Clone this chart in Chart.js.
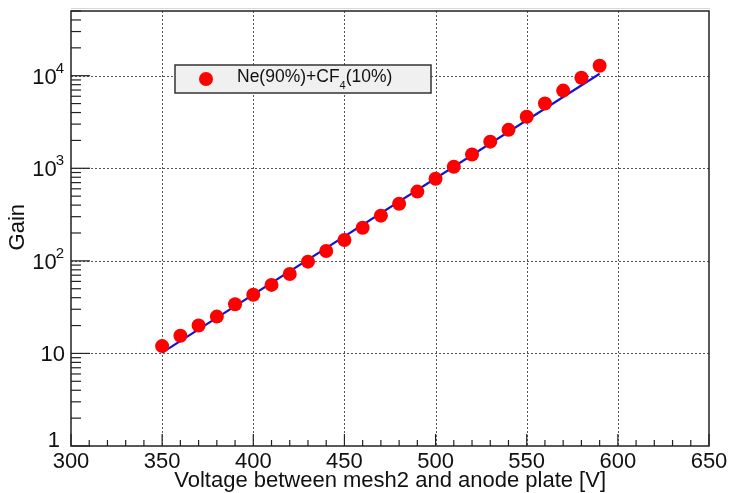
<!DOCTYPE html>
<html>
<head>
<meta charset="utf-8">
<script src="https://cdn.jsdelivr.net/npm/chart.js@4.4.1/dist/chart.umd.min.js"></script>
<style>
  body { margin: 0; background: #fff; }
  #wrap { width: 730px; height: 493px; }
</style>
</head>
<body>
<div id="wrap"><canvas id="myChart" width="730" height="493"></canvas></div>
<script>
// measured gain vs voltage
const voltages = [350, 360, 370, 380, 390, 400, 410, 420, 430, 440, 450, 460,
                  470, 480, 490, 500, 510, 520, 530, 540, 550, 560, 570, 580, 590];
const gains = [12, 15.5, 20, 25, 34, 43, 55, 72, 98, 128, 168, 228,
               308, 414, 560, 770, 1040, 1410, 1940, 2600, 3600, 5000, 6900, 9500, 12800];
// exponential fit end points
const fitVoltages = [350, 590];
const fitGains = [10.2, 10500];

const xTicks = [300, 350, 400, 450, 500, 550, 600, 650];
const yDecades = [1, 10, 100, 1000, 10000];
const yTickLabels = [['1', ''], ['10', ''], ['10', '2'], ['10', '3'], ['10', '4']];
const seriesName = ['Ne(90%)+CF', '4', '(10%)'];

const FONT = 'Liberation Sans, Arial, sans-serif';

const rootStyle = {
    id: 'rootStyle',
    beforeDatasetsDraw(chart) {
        const ctx = chart.ctx;
        const xs = chart.scales.x, ys = chart.scales.y;
        const a = chart.chartArea;
        ctx.save();
        // dotted grid
        ctx.strokeStyle = '#555';
        ctx.lineWidth = 1;
        ctx.setLineDash([2, 2]);
        xTicks.forEach(v => {
            if (v === 300 || v === 650) return;
            const px = Math.round(xs.getPixelForValue(v)) + 0.5;
            ctx.beginPath(); ctx.moveTo(px, a.top); ctx.lineTo(px, a.bottom); ctx.stroke();
        });
        yDecades.forEach(v => {
            if (v === 1) return;
            const py = Math.round(ys.getPixelForValue(v)) + 0.5;
            ctx.beginPath(); ctx.moveTo(a.left, py); ctx.lineTo(a.right, py); ctx.stroke();
        });
        ctx.restore();
    },
    afterDraw(chart) {
        const ctx = chart.ctx;
        const xs = chart.scales.x, ys = chart.scales.y;
        const a = chart.chartArea;
        ctx.save();
        // frame
        ctx.strokeStyle = '#d8d8d8';
        ctx.lineWidth = 1;
        ctx.beginPath(); ctx.moveTo(a.left, a.top - 2.5); ctx.lineTo(a.right + 1, a.top - 2.5); ctx.stroke();
        ctx.strokeStyle = '#222';
        ctx.lineWidth = 1.5;
        ctx.strokeRect(a.left, a.top, a.right - a.left, a.bottom - a.top);

        // x ticks
        ctx.lineWidth = 1.2;
        for (let v = 300; v <= 650; v += 10) {
            const px = xs.getPixelForValue(v);
            const len = (v % 50 === 0) ? 12 : 6;
            ctx.beginPath(); ctx.moveTo(px, a.bottom); ctx.lineTo(px, a.bottom - len); ctx.stroke();
        }
        // y ticks
        for (let d = 1; d <= 10000; d *= 10) {
            for (let m = 1; m <= 9; m++) {
                const v = d * m;
                if (v > ys.max) break;
                const py = ys.getPixelForValue(v);
                const len = (m === 1) ? 19 : 10;
                ctx.beginPath(); ctx.moveTo(a.left, py); ctx.lineTo(a.left + len, py); ctx.stroke();
            }
        }

        // x tick labels
        ctx.fillStyle = '#111';
        ctx.font = '22px ' + FONT;
        ctx.textAlign = 'center';
        ctx.textBaseline = 'middle';
        xTicks.forEach(v => {
            ctx.fillText(String(v), xs.getPixelForValue(v), a.bottom + 16);
        });

        // y tick labels with superscripts
        yDecades.forEach((v, i) => {
            const py = ys.getPixelForValue(v);
            const base = yTickLabels[i][0], sup = yTickLabels[i][1];
            ctx.font = '15px ' + FONT;
            const sw = sup ? ctx.measureText(sup).width : 0;
            ctx.font = '22px ' + FONT;
            ctx.textAlign = 'right';
            const right = 64;
            if (v === 1) {
                ctx.fillText(base, right - 4, py - 5);
                return;
            }
            ctx.fillText(base, right - sw + 1, py + 2);
            if (sup) {
                ctx.font = '15px ' + FONT;
                ctx.fillText(sup, right, py - 7);
            }
        });

        // axis titles
        ctx.font = '22px ' + FONT;
        ctx.textAlign = 'right';
        ctx.fillText('Voltage between mesh2 and anode plate [V]', 606, 481);
        ctx.save();
        ctx.translate(18, 204);
        ctx.rotate(-Math.PI / 2);
        ctx.textAlign = 'right';
        ctx.fillText('Gain', 0, 0);
        ctx.restore();

        // legend box
        const lx = 175, ly = 65, lw = 256, lh = 28;
        ctx.fillStyle = '#f0f0f0';
        ctx.fillRect(lx, ly, lw, lh);
        ctx.strokeStyle = '#333';
        ctx.lineWidth = 1.5;
        ctx.strokeRect(lx, ly, lw, lh);
        ctx.fillStyle = '#ff0000';
        ctx.beginPath(); ctx.arc(206, 79, 7, 0, Math.PI * 2); ctx.fill();
        ctx.fillStyle = '#111';
        ctx.textAlign = 'left';
        ctx.font = '17.5px ' + FONT;
        let tx = 237;
        ctx.fillText(seriesName[0], tx, 77);
        tx += ctx.measureText(seriesName[0]).width;
        ctx.font = '11px ' + FONT;
        ctx.fillText(seriesName[1], tx, 86);
        tx += ctx.measureText(seriesName[1]).width;
        ctx.font = '17.5px ' + FONT;
        ctx.fillText(seriesName[2], tx, 77);
        ctx.restore();
    }
};

const ctx = document.getElementById('myChart').getContext('2d');
const chartInstance = new Chart(ctx, {
    type: 'scatter',
    data: {
        datasets: [
            {
                label: 'fit',
                data: fitVoltages.map((v, i) => ({ x: v, y: fitGains[i] })),
                showLine: true,
                borderColor: '#1414d0',
                borderWidth: 2.2,
                pointRadius: 0,
                order: 2
            },
            {
                label: 'Ne(90%)+CF4(10%)',
                data: voltages.map((v, i) => ({ x: v, y: gains[i] })),
                backgroundColor: '#ff0000',
                borderColor: '#ff0000',
                pointRadius: 7,
                pointBorderWidth: 0,
                order: 1
            }
        ]
    },
    options: {
        responsive: false,
        animation: false,
        layout: { padding: { left: 71, top: 11, right: 21, bottom: 47 } },
        scales: {
            x: { type: 'linear', min: 300, max: 650, display: false },
            y: { type: 'logarithmic', min: 1, max: 50000, display: false }
        },
        plugins: {
            legend: { display: false },
            tooltip: { enabled: false }
        }
    },
    plugins: [rootStyle]
});
</script>
</body>
</html>
